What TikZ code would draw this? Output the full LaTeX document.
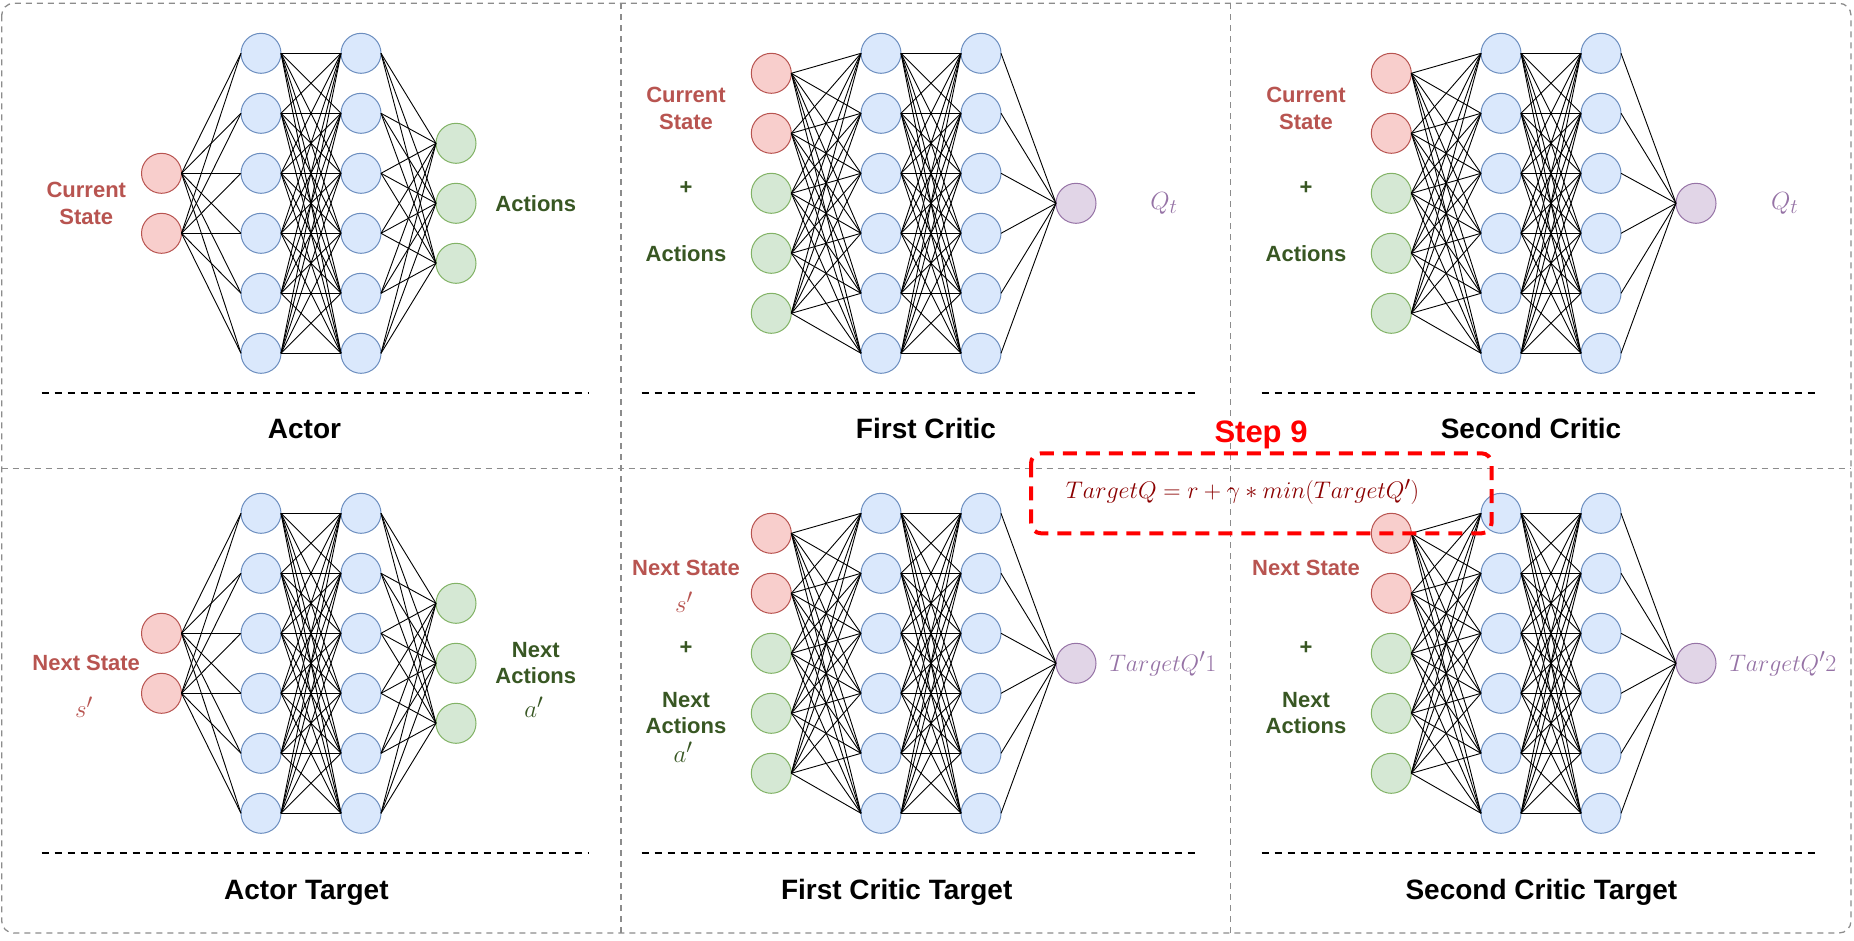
\documentclass[tikz,border=0pt]{standalone}
\usepackage[no-math]{fontspec}
\setmainfont{Liberation Sans}
\definecolor{rfill}{HTML}{F8CECC}\definecolor{rdraw}{HTML}{B85450}
\definecolor{bfill}{HTML}{DAE8FC}\definecolor{bdraw}{HTML}{6C8EBF}
\definecolor{gfill}{HTML}{D5E8D4}\definecolor{gdraw}{HTML}{82B366}
\definecolor{pfill}{HTML}{E1D5E7}\definecolor{pdraw}{HTML}{9673A6}
\definecolor{redtxt}{HTML}{B85450}
\definecolor{greentxt}{HTML}{385723}
\definecolor{purtxt}{HTML}{9673A6}
\definecolor{formtxt}{HTML}{8B0000}
\definecolor{panelgray}{HTML}{8C8C8C}
\tikzset{
  neuron/.style={circle, line width=1pt, minimum size=40pt, inner sep=0pt, outer sep=0pt},
  rn/.style={neuron, fill=rfill, draw=rdraw},
  bn/.style={neuron, fill=bfill, draw=bdraw},
  gn/.style={neuron, fill=gfill, draw=gdraw},
  pn/.style={neuron, fill=pfill, draw=pdraw},
  syn/.style={line width=0.9pt, black},
  panel/.style={draw=panelgray, line width=1.3pt, dash pattern=on 6pt off 5pt},
  sepline/.style={black, line width=1.8pt, dash pattern=on 7pt off 6pt},
  lbl/.style={font=\fontsize{22}{26.4}\selectfont\bfseries, align=center, inner sep=0pt},
  mlbl/.style={font=\fontsize{24.88}{29}\selectfont, inner sep=0pt},
  ttl/.style={font=\fontsize{28}{33}\selectfont\bfseries, anchor=base, inner sep=0pt},
}
\begin{document}
\begin{tikzpicture}[x=1pt,y=-1pt]
\useasboundingbox (0,0) rectangle (1854,940);
\fill[white] (0,0) rectangle (1854,940);

% panel borders
\draw[panel, rounded corners=12pt] (1.7,3.3) rectangle (1851,933);
\draw[panel] (621,3.3) -- (621,933);
\draw[panel] (1230.7,3.3) -- (1230.7,933);
\draw[panel] (1.7,468.5) -- (1851,468.5);

\foreach \r/\oy in {t/0,b/460}{
  % ---------- actor networks ----------
  \foreach \i in {0,...,5}{
    \node[bn] (ah1-\r-\i) at (261, 53.3+\oy+60*\i) {};
    \node[bn] (ah2-\r-\i) at (361, 53.3+\oy+60*\i) {};
  }
  \foreach \i in {0,1}{\node[rn] (ai-\r-\i) at (161.5, 173.3+\oy+60*\i) {};}
  \foreach \i in {0,1,2}{\node[gn] (ao-\r-\i) at (456, 143.3+\oy+60*\i) {};}
  \foreach \i in {0,1}{\foreach \j in {0,...,5}{\draw[syn] (ai-\r-\i.east) -- (ah1-\r-\j.west);}}
  \foreach \i in {0,...,5}{\foreach \j in {0,...,5}{\draw[syn] (ah1-\r-\i.east) -- (ah2-\r-\j.west);}}
  \foreach \i in {0,...,5}{\foreach \j in {0,1,2}{\draw[syn] (ah2-\r-\i.east) -- (ao-\r-\j.west);}}
  % ---------- critic networks ----------
  \foreach \c/\ox in {c/0,d/620}{
    \foreach \i in {0,...,5}{
      \node[bn] (ch1-\c-\r-\i) at (881+\ox, 53.3+\oy+60*\i) {};
      \node[bn] (ch2-\c-\r-\i) at (981+\ox, 53.3+\oy+60*\i) {};
    }
    \foreach \i in {0,1}{\node[rn] (ci-\c-\r-\i) at (771.3+\ox, 73.3+\oy+60*\i) {};}
    \foreach \i in {2,3,4}{\node[gn] (ci-\c-\r-\i) at (771.3+\ox, 73.3+\oy+60*\i) {};}
    \node[pn] (co-\c-\r) at (1076+\ox, 203.3+\oy) {};
    \foreach \i in {0,...,4}{\foreach \j in {0,...,5}{\draw[syn] (ci-\c-\r-\i.east) -- (ch1-\c-\r-\j.west);}}
    \foreach \i in {0,...,5}{\foreach \j in {0,...,5}{\draw[syn] (ch1-\c-\r-\i.east) -- (ch2-\c-\r-\j.west);}}
    \foreach \i in {0,...,5}{\draw[syn] (ch2-\c-\r-\i.east) -- (co-\c-\r.west);}
  }
  % separators
  \draw[sepline] (41.5,393.3+\oy) -- (588,393.3+\oy);
  \draw[sepline] (641.7,393.3+\oy) -- (1200,393.3+\oy);
  \draw[sepline] (1261.7,393.3+\oy) -- (1820,393.3+\oy);
}

% ---------- labels, top row ----------
\node[lbl, text=redtxt] (l1) at (86.3,203.5) {Current\\State};
\node[lbl, text=greentxt] (l2) at (535.8,203.3) {Actions};
\node[lbl, text=redtxt] (l3) at (686,108.3) {Current\\State};
\node[lbl, text=greentxt] (l4) at (686,188.3) {+};
\node[lbl, text=greentxt] (l5) at (686,253.3) {Actions};
\node[mlbl, text=purtxt] (l6) at (1164,203) {$Q_t$};
\node[lbl, text=redtxt] (l7) at (1306,108.3) {Current\\State};
\node[lbl, text=greentxt] (l8) at (1306,188.3) {+};
\node[lbl, text=greentxt] (l9) at (1306,253.3) {Actions};
\node[mlbl, text=purtxt] (l10) at (1784.6,203) {$Q_t$};

% ---------- labels, bottom row ----------
\node[lbl, text=redtxt] (m1) at (86.2,663.3) {Next State};
\node[mlbl, text=redtxt] (m2) at (84,707) {$s^{\prime}$};
\node[lbl, text=greentxt] (m3) at (535.8,663.3) {Next\\Actions};
\node[mlbl, text=greentxt] (m4) at (533.8,707.5) {$a^{\prime}$};
\node[lbl, text=redtxt] (m5) at (686,568.3) {Next State};
\node[mlbl, text=redtxt] (m6) at (684,602) {$s^{\prime}$};
\node[lbl, text=greentxt] (m7) at (686,648.3) {+};
\node[lbl, text=greentxt] (m8) at (686,713.3) {Next\\Actions};
\node[mlbl, text=greentxt] (m9) at (683,752.5) {$a^{\prime}$};
\node[mlbl, text=purtxt, scale=0.96, transform shape] (m10) at (1162.6,664) {$TargetQ^{\prime}1$};
\node[lbl, text=redtxt] (m11) at (1306,568.3) {Next State};
\node[lbl, text=greentxt] (m12) at (1306,648.3) {+};
\node[lbl, text=greentxt] (m13) at (1306,713.3) {Next\\Actions};
\node[mlbl, text=purtxt, scale=0.96, transform shape] (m14) at (1782.6,664) {$TargetQ^{\prime}2$};

% ---------- titles ----------
\node[ttl] (t1) at (304.5,438) {Actor};
\node[ttl] (t2) at (926,438) {First Critic};
\node[ttl] (t3) at (1531,438) {Second Critic};
\node[ttl] (t4) at (306.4,899) {Actor Target};
\node[ttl] (t5) at (896.7,899) {First Critic Target};
\node[ttl] (t6) at (1541.4,899) {Second Critic Target};

% ---------- step 9 ----------
\node[font=\fontsize{31}{37}\selectfont\bfseries, text=red, anchor=base, inner sep=0pt] (s9) at (1261,442.8) {Step 9};
\node[mlbl, text=formtxt, scale=0.965, transform shape] (form) at (1242.5,492) {$TargetQ = r + \gamma * min(TargetQ^{\prime})$};
\draw[red, line width=4pt, dash pattern=on 14pt off 9pt, rounded corners=10pt] (1031,453.3) rectangle (1491.5,533.3);
\end{tikzpicture}
\end{document}
